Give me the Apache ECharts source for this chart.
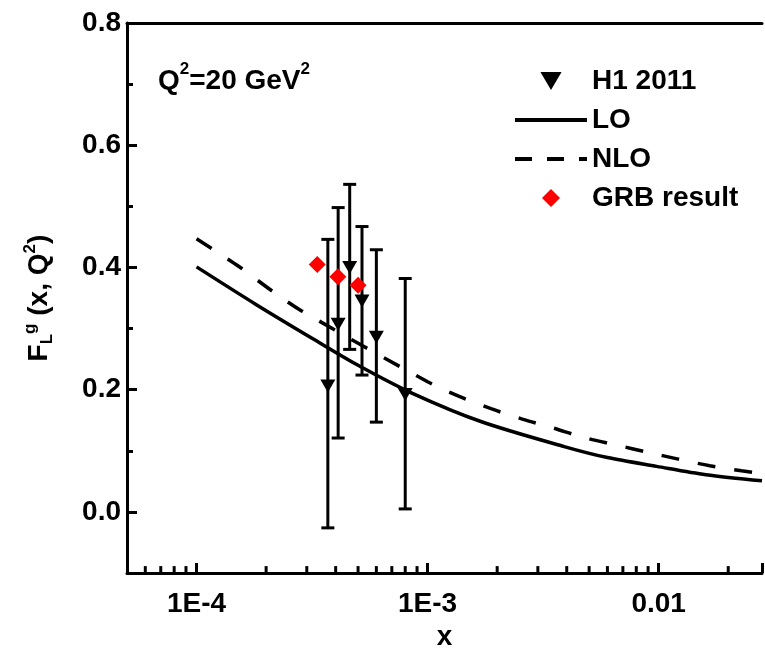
<!DOCTYPE html>
<html><head><meta charset="utf-8">
<script src="https://cdn.jsdelivr.net/npm/echarts@6/dist/echarts.min.js"></script>
<style>html,body{margin:0;padding:0;background:#fff}#c{width:765px;height:656px}</style>
</head><body><div id="c"></div>
<script>
// ---- data ----
const X_MIN = 5e-5, X_MAX = 0.028, Y_MIN = -0.1, Y_MAX = 0.8;
const xMajorTicks = [1e-4, 1e-3, 1e-2];
const xTickLabels = ['1E-4', '1E-3', '0.01'];
const xMinorTicks = [6e-5, 7e-5, 8e-5, 9e-5,
  2e-4, 3e-4, 4e-4, 5e-4, 6e-4, 7e-4, 8e-4, 9e-4,
  2e-3, 3e-3, 4e-3, 5e-3, 6e-3, 7e-3, 8e-3, 9e-3, 2e-2];

const h1X    = [3.7e-4, 4.1e-4, 4.6e-4, 5.2e-4, 6.0e-4, 8.0e-4];
const h1Y    = [0.206, 0.307, 0.400, 0.345, 0.286, 0.192];
const h1Low  = [-0.026, 0.121, 0.266, 0.224, 0.147, 0.005];
const h1High = [0.446, 0.498, 0.536, 0.467, 0.429, 0.382];

const grbX = [3.33e-4, 4.09e-4, 5.0e-4];
const grbY = [0.405, 0.385, 0.371];

const loX = [1e-4, 1.8e-4, 3.3e-4, 5e-4, 8.5e-4, 1.7e-3, 3.9e-3, 6e-3, 9.8e-3, 1.6e-2, 2.8e-2];
const loY = [0.401, 0.340, 0.280, 0.240, 0.195, 0.148, 0.107, 0.089, 0.0746, 0.061, 0.051];

const nloX = [1e-4, 1.52e-4, 2.08e-4, 2.85e-4, 1e-3, 1.37e-3, 1.88e-3, 2.57e-3, 3.52e-3, 4.73e-3, 6.49e-3, 8.88e-3, 1.216e-2, 1.665e-2, 2.28e-2, 2.8e-2];
const nloY = [0.447, 0.402, 0.364, 0.329, 0.213, 0.189, 0.169, 0.152, 0.137, 0.122, 0.110, 0.098, 0.0865, 0.0756, 0.0675, 0.063];

// ---- chart ----
const FONT = '"Liberation Sans", Arial, sans-serif';
const zip = (a, b) => a.map((v, i) => [v, b[i]]);
const triPath = 'path://M0,0L20,0L10,17Z';
const diaPath = 'path://M10,0L20,10L10,20L0,10Z';

const chart = echarts.init(document.getElementById('c'), null, {renderer: 'canvas'});
const bold = {fontFamily: FONT, fontWeight: 'bold', color: '#000'};

chart.setOption({
  backgroundColor: '#fff',
  animation: false,
  grid: {left: 127, right: 0, top: 23, bottom: 81, containLabel: false},
  title: {
    text: '{a|Q}{s|2}{a|=20 GeV}{s|2}',
    left: 153, top: 56,
    textStyle: {rich: {
      a: Object.assign({fontSize: 28, lineHeight: 34, verticalAlign: 'bottom'}, bold),
      s: Object.assign({fontSize: 17, lineHeight: 18, verticalAlign: 'top'}, bold)
    }}
  },
  legend: {
    orient: 'vertical', left: 508, top: 62,
    itemWidth: 72, itemHeight: 18, itemGap: 11,
    selectedMode: false,
    textStyle: Object.assign({fontSize: 28}, bold),
    data: [
      {name: 'H1 2011', icon: triPath},
      {name: 'LO', icon: 'inherit', itemStyle: {opacity: 0}, lineStyle: {width: 4, color: '#000'}},
      {name: 'NLO', icon: 'inherit', itemStyle: {opacity: 0}, lineStyle: {width: 4, color: '#000', type: [17, 15]}},
      {name: 'GRB result', icon: diaPath}
    ]
  },
  xAxis: [{
    type: 'log', min: X_MIN, max: X_MAX, position: 'bottom',
    name: 'x', nameLocation: 'middle', nameGap: 45,
    nameTextStyle: Object.assign({fontSize: 28}, bold),
    axisLine: {onZero: false, lineStyle: {color: '#000', width: 3}},
    axisTick: {inside: true, length: 10, lineStyle: {color: '#000', width: 3}},
    axisLabel: Object.assign({
      fontSize: 28, margin: 17,
      formatter: v => {
        const l = Math.log10(v);
        const i = xMajorTicks.findIndex(t => Math.abs(Math.log10(t) - l) < 1e-6);
        return i >= 0 ? xTickLabels[i] : '';
      }
    }, bold),
    splitLine: {show: false}
  }, {
    type: 'log', min: X_MIN, max: X_MAX, position: 'top',
    axisLine: {onZero: false, lineStyle: {color: '#000', width: 3}},
    axisTick: {show: false}, axisLabel: {show: false}, splitLine: {show: false}
  }],
  yAxis: {
    type: 'value', min: Y_MIN, max: Y_MAX,
    name: '{a|F}{sub|L}{sup|g}{a| (x, Q}{sup|2}{a|)}',
    nameLocation: 'middle', nameRotate: 90, nameGap: 71,
    nameTextStyle: {rich: {
      a: Object.assign({fontSize: 28, lineHeight: 34}, bold),
      sub: Object.assign({fontSize: 17, lineHeight: 18, verticalAlign: 'bottom'}, bold),
      sup: Object.assign({fontSize: 17, lineHeight: 18, verticalAlign: 'top'}, bold)
    }},
    axisLine: {show: true, onZero: false, lineStyle: {color: '#000', width: 3}},
    axisTick: {inside: true, length: 10, lineStyle: {color: '#000', width: 3}},
    minorTick: {show: true, splitNumber: 2, length: 6, lineStyle: {color: '#000', width: 3}},
    axisLabel: Object.assign({
      fontSize: 28, margin: 6, showMinLabel: false,
      formatter: v => (v < -0.05 ? '' : v.toFixed(1))
    }, bold),
    splitLine: {show: false}
  },
  series: [
    {
      name: 'LO', type: 'line', data: zip(loX, loY), symbol: 'none', smooth: 0.3,
      lineStyle: {color: '#000', width: 3.5}, itemStyle: {color: '#000'}, z: 2
    },
    {
      name: 'NLO', type: 'line', data: zip(nloX, nloY), symbol: 'none', smooth: 0.3,
      lineStyle: {color: '#000', width: 3.5, type: [18, 19]}, itemStyle: {color: '#000'}, z: 2
    },
    {
      name: 'H1 2011 errors', type: 'custom', z: 3,
      data: h1X.map((x, i) => [x, h1Low[i], h1High[i]]),
      encode: {x: 0, y: [1, 2]},
      renderItem: (params, api) => {
        const x = api.value(0);
        const lo = api.coord([x, api.value(1)]);
        const hi = api.coord([x, api.value(2)]);
        const hw = 6.5;
        const st = {stroke: '#000', lineWidth: 3};
        return {type: 'group', children: [
          {type: 'line', shape: {x1: lo[0], y1: lo[1], x2: hi[0], y2: hi[1]}, style: st},
          {type: 'line', shape: {x1: lo[0] - hw, y1: lo[1], x2: lo[0] + hw, y2: lo[1]}, style: st},
          {type: 'line', shape: {x1: hi[0] - hw, y1: hi[1], x2: hi[0] + hw, y2: hi[1]}, style: st}
        ]};
      }
    },
    {
      name: 'H1 2011', type: 'scatter', data: zip(h1X, h1Y), z: 4,
      symbol: triPath, symbolSize: [15, 13], itemStyle: {color: '#000', opacity: 1}
    },
    {
      name: 'GRB result', type: 'scatter', data: zip(grbX, grbY), z: 5,
      symbol: diaPath, symbolSize: [17, 17], itemStyle: {color: '#ff0000', opacity: 1}
    },
    {
      name: 'minor x ticks', type: 'custom', z: 6, silent: true,
      data: xMinorTicks.map(x => [x, Y_MIN]),
      renderItem: (params, api) => {
        const p = api.coord([api.value(0), api.value(1)]);
        return {type: 'line', shape: {x1: p[0], y1: p[1], x2: p[0], y2: p[1] - 7},
                style: {stroke: '#000', lineWidth: 3}};
      }
    }
  ]
});
</script></body></html>
